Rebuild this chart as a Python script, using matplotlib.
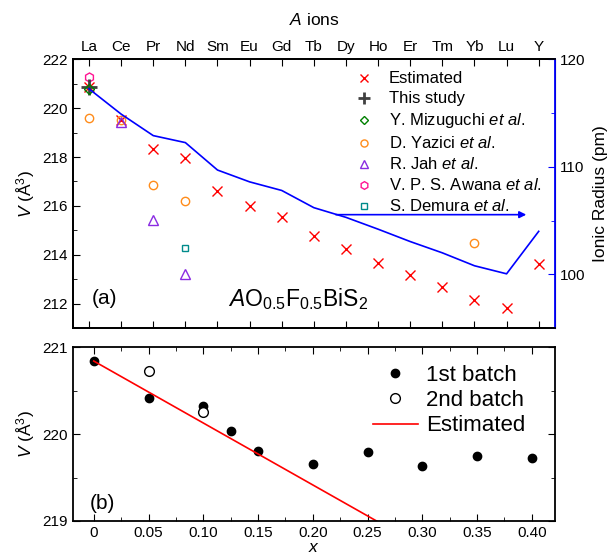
import matplotlib
matplotlib.use("Agg")
import matplotlib.pyplot as plt
from matplotlib.ticker import MultipleLocator

plt.rcParams['font.family'] = ['Liberation Sans', 'DejaVu Sans']
plt.rcParams['mathtext.fontset'] = 'custom'
plt.rcParams['mathtext.rm'] = 'Liberation Sans'
plt.rcParams['mathtext.it'] = 'Liberation Sans:italic'

# A ions (top panel categories)
ions = ['La', 'Ce', 'Pr', 'Nd', 'Sm', 'Eu', 'Gd', 'Tb', 'Dy', 'Ho', 'Er', 'Tm', 'Yb', 'Lu', 'Y']
# estimated lattice volume for each ion
v_est = [220.85, 219.5, 218.33, 217.95, 216.6, 215.99, 215.54, 214.77, 214.22, 213.68,
         213.16, 212.69, 212.14, 211.84, 213.64]
# ionic radius (pm)
radius = [117.25, 114.9, 112.9, 112.25, 109.7, 108.6, 107.8, 106.2, 105.3, 104.2,
          103.05, 102.0, 100.8, 100.05, 104.0]

# literature / this study points (ion index, V)
this_x, this_v = [0], [220.85]
mizu_x, mizu_v = [0], [220.8]
yazici_x, yazici_v = [0, 1, 2, 3, 12], [219.61, 219.53, 216.84, 216.22, 214.48]
jah_x, jah_v = [1, 2, 3], [219.42, 215.44, 213.2]
awana_x, awana_v = [0], [221.29]
demura_x, demura_v = [3], [214.29]

# bottom panel: V vs x
batch1_x = [0, 0.05, 0.10, 0.125, 0.15, 0.20, 0.25, 0.30, 0.35, 0.40]
batch1_v = [220.84, 220.42, 220.32, 220.03, 219.81, 219.65, 219.79, 219.63, 219.75, 219.72]
batch2_x = [0.05, 0.10]
batch2_v = [220.72, 220.25]
line_x = [0, 0.40]
line_v = [220.84, 217.99]

fig = plt.figure(figsize=(6.13, 5.59), dpi=100)
ax1 = fig.add_axes([0.119, 0.413, 0.786, 0.481])
ax2 = fig.add_axes([0.119, 0.068, 0.786, 0.311])

xs = list(range(len(ions)))
ax1.plot(xs, v_est, 'x', color='red', ms=7, mew=1.0, ls='none', label='Estimated')
ax1.plot(yazici_x, yazici_v, 'o', mfc='none', mec='#ff8c1a', ms=6, mew=1.0, ls='none', label='D. Yazici $\\it{et\\ al}$.')
ax1.plot(jah_x, jah_v, '^', mfc='none', mec='#8a2be2', ms=6.5, mew=1.0, ls='none', label='R. Jah $\\it{et\\ al}$.')
ax1.plot(awana_x, awana_v, 'h', mfc='none', mec='#ff1493', ms=6.5, mew=1.0, ls='none', label='V. P. S. Awana $\\it{et\\ al}$.')
ax1.plot(demura_x, demura_v, 's', mfc='none', mec='#008b8b', ms=5, mew=1.0, ls='none', label='S. Demura $\\it{et\\ al}$.')
ax1.plot(this_x, this_v, '+', color='#404040', ms=11, mew=2.0, ls='none', label='This study')
ax1.plot(mizu_x, mizu_v, 'D', mfc='none', mec='green', ms=5, mew=1.0, ls='none', label='Y. Mizuguchi $\\it{et\\ al}$.')

ax1.set_xlim(-0.5, 14.5)
ax1.set_ylim(211, 222)
ax1.yaxis.set_major_locator(MultipleLocator(2))
ax1.yaxis.set_minor_locator(MultipleLocator(1))
ax1.set_xticks(xs)
ax1.tick_params(axis='x', which='both', direction='in', top=True, bottom=True,
                labeltop=True, labelbottom=False, length=5, labelsize=11)
ax1.set_xticklabels(ions)
ax1.tick_params(axis='y', which='major', direction='in', length=5, labelsize=11)
ax1.tick_params(axis='y', which='minor', direction='in', length=3)
ax1.xaxis.set_label_position('top')
ax1.set_xlabel('$\\it{A}$ ions', fontsize=12.5, labelpad=11)
ax1.set_ylabel('$\\it{V}$ (Å$^3$)', fontsize=12.5, labelpad=4)

ax1r = ax1.twinx()
ax1r.plot(xs, radius, '-', color='blue', lw=1.2)
ax1r.set_ylim(95, 120)
ax1r.yaxis.set_major_locator(MultipleLocator(10))
ax1r.yaxis.set_minor_locator(MultipleLocator(5))
ax1r.tick_params(axis='y', which='major', direction='in', length=5, color='blue', labelsize=11)
ax1r.tick_params(axis='y', which='minor', direction='in', length=3, color='blue')
ax1r.spines['right'].set_color('blue')
ax1r.spines['right'].set_linewidth(1.3)
ax1r.set_ylabel('Ionic Radius (pm)', fontsize=12.5, labelpad=6)
ax1r.annotate('', xy=(13.7, 105.55), xytext=(7.6, 105.55),
              arrowprops=dict(arrowstyle='-|>', color='blue', lw=1.2, mutation_scale=10))

h, l = ax1.get_legend_handles_labels()
order = [0, 5, 6, 1, 2, 3, 4]
leg = ax1.legend([h[i] for i in order], [l[i] for i in order], loc='upper right',
                 bbox_to_anchor=(0.995, 0.995), frameon=False, fontsize=12,
                 handletextpad=0.5, labelspacing=0.3, borderaxespad=0.25, markerscale=0.85)

ax1.text(0.1, 212.2, '(a)', fontsize=15, va='center', ha='left')
ax1.text(6.5, 212.2, '$\\it{A}$O$_{0.5}$F$_{0.5}$BiS$_2$', fontsize=16.5, va='center', ha='center')

# bottom panel
ax2.plot(batch1_x, batch1_v, 'o', color='black', ms=6, ls='none', label='1st batch')
ax2.plot(batch2_x, batch2_v, 'o', mfc='white', mec='black', ms=7, mew=1.0, ls='none', label='2nd batch')
ax2.plot(line_x, line_v, '-', color='red', lw=1.2, label='Estimated')
ax2.set_xlim(-0.019, 0.421)
ax2.set_ylim(219, 221)
ax2.set_xticks([0, 0.05, 0.10, 0.15, 0.20, 0.25, 0.30, 0.35, 0.40])
ax2.set_xticklabels(['0', '0.05', '0.10', '0.15', '0.20', '0.25', '0.30', '0.35', '0.40'])
ax2.xaxis.set_minor_locator(MultipleLocator(0.025))
ax2.yaxis.set_major_locator(MultipleLocator(1))
ax2.yaxis.set_minor_locator(MultipleLocator(0.5))
ax2.tick_params(which='major', direction='in', top=True, right=True, length=5, labelsize=11)
ax2.tick_params(which='minor', direction='in', top=True, right=True, length=3)
ax2.set_xlabel('$\\it{x}$', fontsize=12.5, labelpad=0)
ax2.set_ylabel('$\\it{V}$ (Å$^3$)', fontsize=12.5, labelpad=4)
ax2.legend(loc='upper right', bbox_to_anchor=(0.965, 0.97), frameon=False, fontsize=16,
           handlelength=2.0, handletextpad=0.4, labelspacing=0.2, borderaxespad=0.15)
ax2.text(-0.004, 219.2, '(b)', fontsize=15, va='center', ha='left')

for ax in (ax1, ax1r, ax2):
    for s in ('left', 'bottom', 'top'):
        ax.spines[s].set_linewidth(1.3)
ax2.spines['right'].set_linewidth(1.3)

fig.savefig('out.png', dpi=100)
